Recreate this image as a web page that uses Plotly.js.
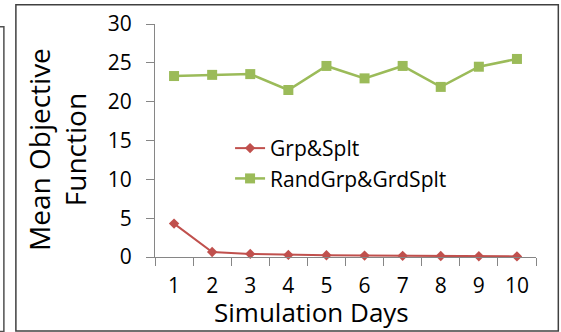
<!DOCTYPE html>
<html>
<head>
<meta charset="utf-8">
<script src="https://cdn.plot.ly/plotly-3.0.1.min.js"></script>
<style>html,body{margin:0;padding:0;background:#fff;}#chart{width:561px;height:332px;}</style>
</head>
<body>
<div id="chart"></div>
<script>
const days = ["1","2","3","4","5","6","7","8","9","10"];
const grpSplt = [4.3, 0.65, 0.4, 0.27, 0.22, 0.18, 0.15, 0.12, 0.1, 0.08];
const randGrpGrdSplt = [23.3, 23.45, 23.55, 21.5, 24.6, 23.0, 24.6, 21.9, 24.5, 25.5];
const seriesNames = ["Grp&Splt", "RandGrp&GrdSplt"];
const yTickVals = [0, 5, 10, 15, 20, 25, 30];

const W = 561, H = 332;
const L = 155, R = 535.7, T = 24.3, B = 256.7;
const pw = R - L, ph = B - T;
const px = x => (x - L) / pw;
const py = y => (B - y) / ph;

const font = "Open Sans, Noto Sans, sans-serif";

const traces = [
  {x: days, y: grpSplt, name: seriesNames[0], type: "scatter", mode: "lines+markers",
   line: {color: "#C0504D", width: 2}, marker: {symbol: "diamond", size: 8, color: "#C0504D"}, cliponaxis: false},
  {x: days, y: randGrpGrdSplt, name: seriesNames[1], type: "scatter", mode: "lines+markers",
   line: {color: "#9BBB59", width: 2.5}, marker: {symbol: "square", size: 10, color: "#9BBB59"}, cliponaxis: false}
];

const layout = {
  width: W, height: H,
  margin: {l: L, r: W - R, t: T, b: H - B, pad: 0},
  paper_bgcolor: "#fff", plot_bgcolor: "#fff",
  font: {family: font, color: "#000", size: 21},
  showlegend: true,
  legend: {x: px(230), y: py(128), xanchor: "left", yanchor: "top", bgcolor: "rgba(0,0,0,0)",
           font: {family: font, size: 21, color: "#000"}, tracegroupgap: 0, itemwidth: 30},
  xaxis: {type: "category", range: [-0.5, 9.5], showline: true, linecolor: "#868686", linewidth: 1,
          ticks: "outside", tickson: "boundaries", ticklen: 8, tickcolor: "#868686",
          showgrid: false, zeroline: false, ticklabelstandoff: 10,
          tickfont: {family: font, size: 21, color: "#000"}, fixedrange: true},
  yaxis: {range: [0, 30], tickvals: yTickVals, showline: true, linecolor: "#868686", linewidth: 1,
          ticks: "outside", ticklen: 8, tickcolor: "#868686", showgrid: false, zeroline: false,
          ticklabelstandoff: 10, tickfont: {family: font, size: 21, color: "#000"}, fixedrange: true},
  annotations: [
    {text: "Mean Objective<br>Function", xref: "paper", yref: "paper", x: px(57), y: py(149),
     xanchor: "center", yanchor: "middle", textangle: -90, showarrow: false,
     font: {family: font, size: 28, color: "#000"}},
    {text: "Simulation Days", xref: "paper", yref: "paper", x: px(311), y: py(312),
     xanchor: "center", yanchor: "middle", showarrow: false,
     font: {family: font, size: 26, color: "#000"}}
  ],
  shapes: [
    {type: "rect", xref: "paper", yref: "paper", x0: px(16), x1: px(558), y0: py(5), y1: py(330.5),
     line: {color: "#404040", width: 1.5}, layer: "below"},
    {type: "path", xref: "paper", yref: "paper",
     path: `M ${px(-1)} ${py(27)} L ${px(4)} ${py(27)} L ${px(4)} ${py(331)} L ${px(-1)} ${py(331)}`,
     line: {color: "#505050", width: 1.5}}
  ]
};

Plotly.newPlot("chart", traces, layout, {staticPlot: true, displayModeBar: false});
</script>
</body>
</html>
